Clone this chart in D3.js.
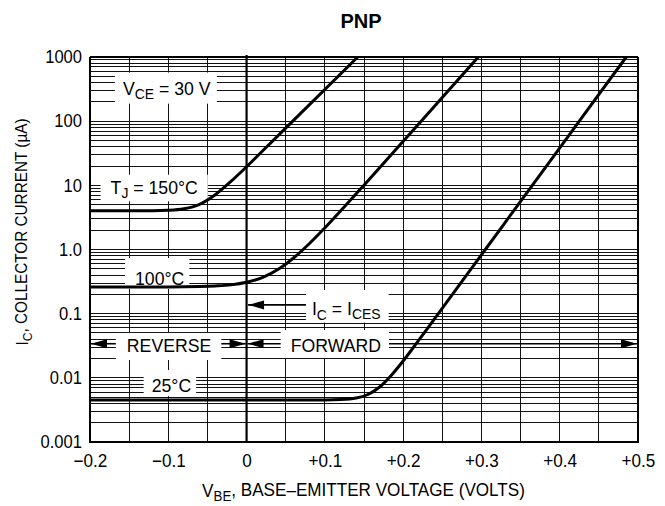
<!DOCTYPE html>
<html><head><meta charset="utf-8">
<script src="https://cdn.jsdelivr.net/npm/d3@7"></script>
<style>
body{margin:0;background:#fff}
text{font-family:"Liberation Sans",Arial,Helvetica,sans-serif;fill:#000}
</style>
</head><body>
<svg id="chart" width="665" height="506"></svg>
<script>
// ---- data ----
const xTickValues = [-0.2, -0.1, 0, 0.1, 0.2, 0.3, 0.4, 0.5];
const xTickLabels = ["\u22120.2", "\u22120.1", "0", "+0.1", "+0.2", "+0.3", "+0.4", "+0.5"];
const yTickValues = [0.001, 0.01, 0.1, 1, 10, 100, 1000];
const yTickLabels = ["0.001", "0.01", "0.1", "1.0", "10", "100", "1000"];

// T_J = 150 °C
const vbe150 = [-0.2, -0.12, -0.1, -0.08, -0.06, -0.04, -0.02, 0, 0.02, 0.059, 0.142];
const ic150  = [4, 4.02, 4.08, 4.31, 5.07, 7.14, 11.5, 19.5, 34, 100, 1000];
// 100 °C
const vbe100 = [-0.2, -0.1, -0.06, -0.04, -0.02, 0, 0.02, 0.043, 0.06, 0.08, 0.102, 0.125, 0.15, 0.223, 0.296];
const ic100  = [0.26, 0.26, 0.264, 0.27, 0.281, 0.308, 0.365, 0.515, 0.737, 1.23, 2.3, 4.63, 10.06, 100, 1000];
// 25 °C
const vbe25  = [-0.2, 0.1, 0.12, 0.14, 0.155, 0.17, 0.185, 0.2, 0.215, 0.23, 0.245, 0.305, 0.365, 0.425, 0.485];
const ic25   = [0.0045, 0.00452, 0.00458, 0.00484, 0.0055, 0.0072, 0.011, 0.0183, 0.032, 0.0564, 0.1, 1, 10, 100, 1000];

// ---- layout ----
const W = 665, H = 506;
const M = {top: 57, right: 27, bottom: 64, left: 90};
const FONT = "Liberation Sans, Arial, Helvetica, sans-serif";
const svg = d3.select("#chart");
const x = d3.scaleLinear().domain([-0.2, 0.5]).range([M.left, W - M.right]);
const y = d3.scaleLog().domain([0.001, 1000]).range([H - M.bottom, M.top]);

function condense(sel, c) {
  sel.each(function () {
    const len = this.getComputedTextLength();
    d3.select(this).attr("textLength", len * c).attr("lengthAdjust", "spacingAndGlyphs");
  });
}

// grid
const gGrid = svg.append("g").attr("stroke", "#111").attr("stroke-width", 1).attr("shape-rendering", "crispEdges");
const vGrid = d3.range(1, 14).map(i => -0.2 + i * 0.05);
gGrid.selectAll(".v").data(vGrid).join("line")
  .attr("x1", d => x(d)).attr("x2", d => x(d)).attr("y1", y(1000)).attr("y2", y(0.001));
const hGrid = [];
for (let k = -3; k <= 2; k++) for (let m = 1; m <= 9; m++) { const v = m * Math.pow(10, k); if (v > 0.001) hGrid.push(v); }
gGrid.selectAll(".h").data(hGrid).join("line")
  .attr("y1", d => y(d)).attr("y2", d => y(d)).attr("x1", x(-0.2)).attr("x2", x(0.5));

const gBox = svg.append("g");
const gMarks = svg.append("g");
const gText = svg.append("g");

// zero line
gMarks.append("line").attr("x1", x(0)).attr("x2", x(0)).attr("y1", y(1000) - 2).attr("y2", y(0.001))
  .attr("stroke", "#000").attr("stroke-width", 2.2);

// frame
const frame = svg.append("g").attr("stroke", "#000").attr("shape-rendering", "crispEdges");
frame.append("line").attr("x1", x(-0.2)).attr("x2", x(0.5)).attr("y1", y(1000)).attr("y2", y(1000)).attr("stroke-width", 1.5);
frame.append("line").attr("x1", x(0.5)).attr("x2", x(0.5)).attr("y1", y(1000)).attr("y2", y(0.001)).attr("stroke-width", 1.5);
frame.append("line").attr("x1", x(-0.2) - 1).attr("x2", x(0.5) + 1).attr("y1", y(0.001)).attr("y2", y(0.001)).attr("stroke-width", 2.5);
frame.append("line").attr("x1", x(-0.2)).attr("x2", x(-0.2)).attr("y1", y(1000)).attr("y2", y(0.001) + 1).attr("stroke-width", 2.5);

// curves
const line = d3.line().x(d => x(d[0])).y(d => y(d[1])).curve(d3.curveMonotoneX);
[[vbe150, ic150], [vbe100, ic100], [vbe25, ic25]].forEach(([vs, is]) => {
  gMarks.append("path").datum(vs.map((v, i) => [v, is[i]]))
    .attr("d", line).attr("fill", "none").attr("stroke", "#000").attr("stroke-width", 3);
});

// labels with white boxes
function label(parts, xv, yv, anchor, pad) {
  const t = gText.append("text").attr("x", x(xv)).attr("y", y(yv)).attr("text-anchor", anchor).attr("font-size", 19);
  parts.forEach(p => {
    if (p[1] === "sub") t.append("tspan").attr("font-size", 15).attr("dy", "0.3em").text(p[0]);
    else if (p[1] === "after") t.append("tspan").attr("dy", "-0.24em").text(p[0]);
    else t.append("tspan").text(p[0]);
  });
  condense(t, 0.93);
  const b = t.node().getBBox();
  const r = {x0: b.x - pad[0], x1: b.x + b.width + pad[1], y0: b.y - pad[2], y1: b.y + b.height + pad[3]};
  gBox.append("rect").attr("x", r.x0).attr("y", r.y0).attr("width", r.x1 - r.x0).attr("height", r.y1 - r.y0).attr("fill", "#fff");
  return r;
}
label([["V"], ["CE", "sub"], [" = 30 V", "after"]], -0.102, 259, "middle", [8, 6, 5, 1.5]);
label([["T"], ["J", "sub"], [" = 150\u00B0C", "after"]], -0.118, 7.38, "middle", [10, 10, 2, 0]);
label([["100\u00B0C"]], -0.111, 0.28, "middle", [10, 5, 10, 0]);
label([["25\u00B0C"]], -0.096, 0.006, "middle", [8, 5, 5, 0]);
const rRev = label([["REVERSE"]], -0.099, 0.0253, "middle", [11, 10, 2, 4]);
const rFwd = label([["FORWARD"]], 0.114, 0.0253, "middle", [10, 8, 5, 2]);
label([["I"], ["C", "sub"], [" = I", "after"], ["CES", "sub"]], 0.0835, 0.0953, "start", [6, 8, 8, 0]);

// arrows
function arrow(x1, x2, yy, headAt) {
  gMarks.append("line").attr("x1", x1).attr("x2", x2).attr("y1", yy).attr("y2", yy).attr("stroke", "#000").attr("stroke-width", 1.6);
  const dir = headAt === "left" ? -1 : 1;
  const tip = headAt === "left" ? Math.min(x1, x2) : Math.max(x1, x2);
  gMarks.append("path").attr("d", `M${tip},${yy} L${tip - dir * 16},${yy - 4.5} L${tip - dir * 16},${yy + 4.5} Z`).attr("fill", "#000");
}
const yArrowRow = y(0.034);
arrow(x(-0.2) + 1, rRev.x0, yArrowRow, "left");
arrow(rRev.x1, x(0) - 1, yArrowRow, "right");
arrow(x(0) + 1, rFwd.x0, yArrowRow, "left");
arrow(rFwd.x1, x(0.5) - 1, yArrowRow, "right");
arrow(x(0) + 1.5, x(0.0835) - 6, y(0.137), "left");

// axes
const xAxis = d3.axisBottom(x).tickValues(xTickValues).tickFormat((d, i) => xTickLabels[i]).tickSize(0).tickPadding(12);
svg.append("g").attr("transform", `translate(0,${H - M.bottom})`).call(xAxis)
  .call(g => g.select(".domain").remove())
  .call(g => g.selectAll("text").attr("font-size", 18).attr("font-family", FONT).call(s => condense(s, 0.95)));
const yAxis = d3.axisLeft(y).tickValues(yTickValues).tickFormat((d, i) => yTickLabels[i]).tickSize(0).tickPadding(8);
svg.append("g").attr("transform", `translate(${M.left},0)`).call(yAxis)
  .call(g => g.select(".domain").remove())
  .call(g => g.selectAll("text").attr("font-size", 18).attr("font-family", FONT).call(s => condense(s, 0.92)));

// titles
svg.append("text").attr("x", 361).attr("y", 28).attr("text-anchor", "middle")
  .attr("font-size", 20).attr("font-weight", "bold").text("PNP");

const xt = svg.append("text").attr("x", 363.5).attr("y", 497).attr("text-anchor", "middle").attr("font-size", 18);
xt.append("tspan").text("V");
xt.append("tspan").attr("font-size", 14).attr("dy", "0.3em").text("BE");
xt.append("tspan").attr("dy", "-0.3em").text(", BASE\u2013EMITTER VOLTAGE (VOLTS)");
condense(xt, 0.95);

const yt = svg.append("text").attr("transform", `translate(28,232) rotate(-90)`).attr("text-anchor", "middle").attr("font-size", 17);
yt.append("tspan").text("I");
yt.append("tspan").attr("font-size", 13.5).attr("dy", "0.3em").text("C");
yt.append("tspan").attr("dy", "-0.3em").text(", COLLECTOR CURRENT (\u00B5A)");
condense(yt, 0.9);
</script>
</body></html>
